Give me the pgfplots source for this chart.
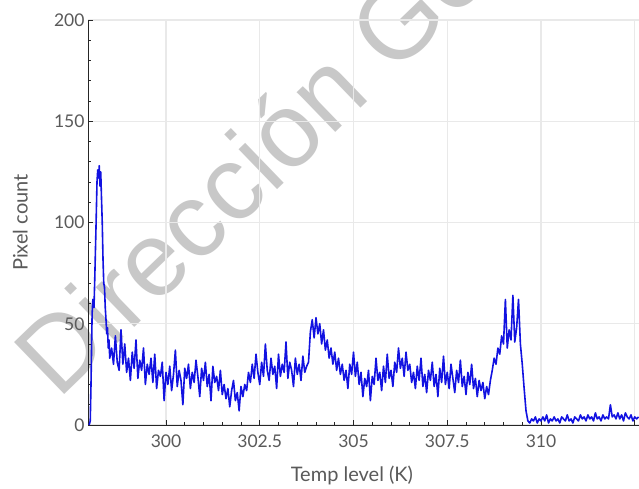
\documentclass[border=0pt]{standalone}
\usepackage{fontspec}
\setmainfont{Lato}
\newfontfamily\wmfont{Liberation Sans}
\usepackage{pgfplots}
\pgfplotsset{compat=1.18}
\definecolor{txtgray}{RGB}{90,90,90}
\definecolor{gridgray}{RGB}{233,233,233}
\definecolor{wmgray}{RGB}{200,200,200}
\definecolor{lineblue}{RGB}{18,18,225}
\begin{document}
\begin{tikzpicture}[x=1pt,y=1pt]
\clip (0,0) rectangle (639,489);
\fill[white] (0,0) rectangle (639,489);
\node[rotate=44, anchor=base west, inner sep=0pt, text=wmgray, font=\wmfont\fontsize{105}{110}\selectfont] at (58,88) {Dirección General};
\begin{axis}[
  at={(88pt,64pt)}, anchor=south west,
  scale only axis, width=551pt, height=405pt,
  xmin=297.92, xmax=312.613, ymin=0, ymax=200,
  axis x line*=bottom, axis y line*=left,
  axis line style={black!85, line width=0.8pt},
  xtick={300,302.5,305,307.5,310},
  xticklabels={300,302.5,305,307.5,310},
  extra x ticks={312.5}, extra x tick labels={},
  ytick={0,50,100,150,200},
  minor x tick num=4, minor y tick num=4,
  tick style={black!85, line width=0.8pt},
  major tick length=5pt, minor tick length=3pt,
  grid=major,
  major grid style={gridgray, line width=1.2pt},
  tick label style={text=txtgray, font=\fontsize{17.5}{20}\selectfont},
  /pgf/number format/assume math mode=true,
  xticklabel style={yshift=-6pt},
  xlabel={Temp level (K)}, ylabel={Pixel count},
  label style={text=txtgray, font=\fontsize{20}{24}\selectfont},
  xlabel style={at={(axis description cs:0.479,-0.125)}, anchor=center},
  ylabel style={at={(axis description cs:-0.123,0.5)}, anchor=center, rotate=0},
  clip=false,
]
\addplot[lineblue, line width=1.6pt, line join=round] coordinates {
(297.95,0) (297.98,2) (298.00,20) (298.03,55) (298.05,62) (298.08,58) (298.10,72) (298.13,95) (298.16,120) (298.18,126) (298.20,122) (298.22,128) (298.24,118) (298.26,125) (298.28,112) (298.30,100) (298.32,82) (298.34,70) (298.36,68) (298.38,58) (298.40,52) (298.42,45) (298.44,48) (298.46,38) (298.48,42) (298.50,33)
(298.55,38) (298.60,30) (298.65,44) (298.70,31) (298.75,27) (298.80,47) (298.85,30) (298.90,40) (298.95,26) (299.00,33) (299.05,22) (299.10,36) (299.15,28) (299.20,42) (299.25,23) (299.30,32) (299.35,27) (299.40,38) (299.45,20) (299.50,30)
(299.55,25) (299.60,33) (299.65,21) (299.70,35) (299.75,18) (299.80,27) (299.85,24) (299.90,31) (299.95,12) (300.00,26)
(300.05,20) (300.10,29) (300.15,17) (300.20,25) (300.25,37) (300.30,19) (300.35,27) (300.40,22) (300.45,10) (300.50,28) (300.55,23) (300.60,30) (300.65,18) (300.70,26) (300.75,21) (300.80,32) (300.85,24) (300.90,14) (300.95,28) (301.00,22) (301.05,31) (301.10,19) (301.15,25) (301.20,12) (301.25,29) (301.30,21) (301.35,24) (301.40,17) (301.45,27) (301.50,15)
(301.55,20) (301.60,13) (301.65,18) (301.70,9) (301.75,17) (301.80,22) (301.85,12) (301.90,16) (301.95,7) (302.00,19) (302.05,14) (302.10,20)
(302.15,17) (302.20,26) (302.25,21) (302.30,30) (302.35,23) (302.40,35) (302.45,26) (302.50,20) (302.55,31) (302.60,24) (302.65,40) (302.70,27) (302.75,22) (302.80,33) (302.85,25) (302.90,29) (302.95,18) (303.00,35) (303.05,24) (303.10,30) (303.15,26) (303.20,41) (303.25,23) (303.30,31) (303.35,27) (303.40,19) (303.45,33) (303.50,25) (303.55,30) (303.60,22) (303.65,34) (303.70,26) (303.75,29) (303.80,31)
(303.85,46) (303.90,52) (303.95,43) (304.00,53) (304.05,45) (304.10,50)
(304.15,40) (304.20,47) (304.25,37) (304.30,42) (304.35,33) (304.40,38) (304.45,30) (304.50,36) (304.55,27) (304.60,33) (304.65,25) (304.70,30)
(304.75,22) (304.80,27) (304.85,18) (304.90,30) (304.95,25) (305.00,36) (305.05,24) (305.10,31) (305.15,20) (305.20,26) (305.25,14) (305.30,23) (305.35,19) (305.40,27) (305.45,12) (305.50,24) (305.55,20) (305.60,33) (305.65,22) (305.70,26) (305.75,17) (305.80,29) (305.85,21) (305.90,35) (305.95,23) (306.00,27) (306.05,19) (306.10,31) (306.15,26) (306.20,38) (306.25,28) (306.30,33) (306.35,24) (306.40,36) (306.45,27) (306.50,30) (306.55,21) (306.60,26) (306.65,18) (306.70,29) (306.75,22) (306.80,33) (306.85,19) (306.90,25) (306.95,16) (307.00,27)
(307.05,22) (307.10,31) (307.15,19) (307.20,25) (307.25,14) (307.30,28) (307.35,21) (307.40,34) (307.45,20) (307.50,26) (307.55,18) (307.60,30) (307.65,23) (307.70,16) (307.75,27) (307.80,21) (307.85,32) (307.90,19) (307.95,24) (308.00,15) (308.05,26) (308.10,20) (308.15,30) (308.20,18) (308.25,23) (308.30,14) (308.35,22) (308.40,17)
(308.45,21) (308.50,13) (308.55,19) (308.60,15) (308.65,22)
(308.70,27) (308.75,33) (308.80,30) (308.85,38) (308.90,35)
(308.95,44) (309.00,40) (309.05,62) (309.10,38) (309.15,47) (309.20,42) (309.25,64) (309.30,41) (309.35,48) (309.40,62) (309.45,40)
(309.50,30) (309.55,18) (309.60,7) (309.65,2)
(309.70,1) (309.75,3) (309.80,2) (309.85,4) (309.90,1) (309.95,3) (310.00,2) (310.05,4) (310.10,2) (310.15,5) (310.20,1) (310.25,3) (310.30,2) (310.35,4) (310.40,2) (310.45,3) (310.50,1) (310.55,4) (310.60,3) (310.65,2) (310.70,5) (310.75,2) (310.80,3) (310.85,1) (310.90,4) (310.95,3) (311.00,2) (311.05,5) (311.10,3) (311.15,4) (311.20,2) (311.25,5) (311.30,3) (311.35,4) (311.40,2) (311.45,6) (311.50,3) (311.55,4) (311.60,2) (311.65,5) (311.70,3) (311.75,4) (311.80,3) (311.85,10) (311.90,4) (311.95,5) (312.00,3) (312.05,6) (312.10,3) (312.15,5) (312.20,2) (312.25,6) (312.30,4) (312.35,3) (312.40,5) (312.45,2) (312.50,4) (312.55,3) (312.60,4)
};
\end{axis}
\end{tikzpicture}
\end{document}
